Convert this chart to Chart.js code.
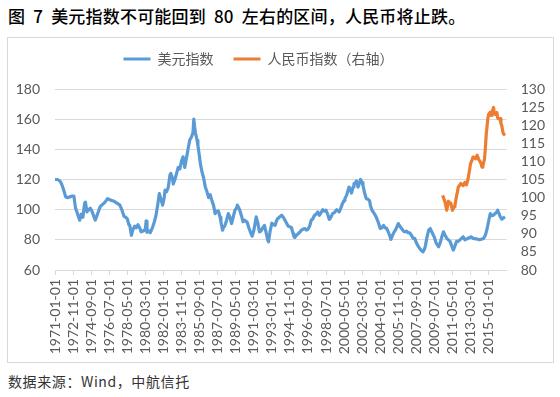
<!DOCTYPE html>
<html><head><meta charset="utf-8">
<script src="https://cdn.jsdelivr.net/npm/chart.js@4.4.0/dist/chart.umd.min.js"></script>
<style>
html,body{margin:0;padding:0;background:#fff;width:560px;height:397px;overflow:hidden;}
#title{position:absolute;left:8px;top:4px;font:500 17px "Noto Sans CJK SC";color:#000;white-space:nowrap;letter-spacing:0.2px;word-spacing:4px;line-height:24px;}
#box{position:absolute;left:7px;top:37px;width:545px;height:324px;border:1px solid #d9d9d9;}
#wrap{position:absolute;left:8px;top:32px;width:545px;height:330px;}
#src{position:absolute;left:8px;top:370px;font:14px "Noto Sans CJK SC";color:#333;white-space:nowrap;line-height:22px;letter-spacing:0.6px;}
</style></head>
<body>
<div id="title">图 7 美元指数不可能回到 80 左右的区间，人民币将止跌。</div>
<div id="box"></div>
<div id="wrap"><canvas id="c" width="545" height="330"></canvas></div>
<div id="src">数据来源：Wind，中航信托</div>
<script>
// months counted from 1971-01 (0)
const seriesNames = ['美元指数', '人民币指数（右轴）'];
const usdMonths = [0,3,6,8,10,13,16,18,21,23,25,27,30,32,34,36,37,39,41,43,45,47,49,51,53,55,57,59,61,64,67,71,75,79,82,84,86,88,90,91,93,95,97,99,101,103,105,108,110,111,112,114,116,119,121,123,125,127,129,131,133,134,136,138,140,141,143,144,146,148,150,152,154,156,158,160,162,164,166,168,169,170,171,173,174,176,177,179,181,183,185,187,189,191,193,195,197,199,201,202,204,205,207,209,211,213,215,217,219,221,222,224,225,227,229,231,234,236,238,240,242,244,245,247,249,251,253,255,257,259,260,262,264,266,268,270,271,273,276,278,280,282,284,286,288,290,291,292,294,296,298,300,302,304,306,308,310,312,314,316,318,320,322,324,326,328,330,332,334,336,338,340,343,346,348,350,352,353,355,357,358,360,361,363,364,366,367,368,369,371,372,374,375,377,379,381,383,384,386,388,390,392,394,396,398,400,402,404,406,408,409,411,413,415,418,420,422,424,426,428,430,432,434,436,438,440,442,444,446,448,450,451,453,455,457,459,462,464,467,469,471,473,475,477,479,481,483,485,487,489,491,493,495,497,499,501,503,505,507,509,511,514,517,520,522,524,526,527,529,530,532,534,536,538,539,541,542,544,546,548];
const usdValues = [120,120,119,117,114,108.5,108,108.5,109,109,101,98,93,97,95,104,105,98.5,100,101,99,96,93,96,99,102,103,104,105,107.3,106.5,105.8,104.5,103,99,95.6,95,94,90,89.7,83,87,89,88,90,88,85.3,86,87,92.5,85,86,84.7,88.6,92,96.3,103,110.6,107,103,108,113,112,115,123,124,121,117,120,124,128,127,132,135,128,134,140,146,148,151,160,155,151,146,142.5,135,130.5,125,121,115,112,108,110,106,103,97.4,99,99,95,92,86.4,88,89.6,93,97.4,95,90.8,95,99.6,101,103,101,99.6,96,92,93,91.7,88,85,82.4,86,92,95.2,91,85.3,86,88,89.6,85,80,78.7,86,91,90,89.6,93,94,95,96.3,95,93,91,89,88.6,88,84,82,81.6,83,84,85,86.4,87,87.5,86.5,87,89,93,94,96.3,97,98.5,96.3,98,100,99,99.6,97,93.5,95,97.4,98,100,98.5,101,104,106,107.3,109.5,113,115,113,111,115,117.2,118,119,117,115,118,120,118,116,111,107.3,107,106,103,99.6,98,96.3,94,91,87.5,88,89.6,88,87.5,85,82,80.3,83,85.3,87,90.8,89,87.5,86,85.3,85.7,84.7,84.6,83,81,81,78,76,74.3,73,72,74,76,82,86.4,87.5,85,81.6,78,75.4,78,82,85.3,83,81,80,79,76,73.2,76,79,79,80,81,82,80,80.5,81,81.5,82,81,80.8,80.5,80,80.5,81,83,87,89.7,95,97.4,96,96.5,97.4,98.5,99.6,97,95.5,93.7,94.5,95.2];
const cnyMonths = [472,473,475,477,479,481,482,484,486,487,489,490,491,493,494,496,497,499,501,503,505,506,508,509,511,512,514,516,518,520,521,523,524,525,527,528,530,531,532,534,535,536,538,539,540,542,543,544,545,546,548];
const cnyValues = [100.6,100,98.7,96.5,99,98.5,98.3,96.5,97.5,97.9,100.6,101.5,102.9,103.5,103.9,103.5,103.3,104.2,103.5,105.2,108,109.4,110.5,111.2,111,110.7,111.7,110.5,109.8,108.4,108.8,110.7,113.5,117.2,121.8,123,123.6,122.7,123.5,124.9,123.1,123,123.5,122,121.8,121.8,120.5,119.9,118.5,117.6,117.2];
const xTickMonths = [0,22,44,66,88,110,132,154,176,198,220,242,264,286,308,330,352,374,396,418,440,462,484,506,528];
const xTickLabels = ['1971-01-01','1972-11-01','1974-09-01','1976-07-01','1978-05-01','1980-03-01','1982-01-01','1983-11-01','1985-09-01','1987-07-01','1989-05-01','1991-03-01','1993-01-01','1994-11-01','1996-09-01','1998-07-01','2000-05-01','2002-03-01','2004-01-01','2005-11-01','2007-09-01','2009-07-01','2011-05-01','2013-03-01','2015-01-01'];
const leftTicks = [60,80,100,120,140,160,180];
const rightTicks = [80,85,90,95,100,105,110,115,120,125,130];
const colors = ['#5B9BD5','#ED7D31'];

const numFont = {family:'Lato', size:14};
const txt = '#595959';
const gridC = '#d9d9d9';

const legendTweak = {
  id:'legendTweak',
  beforeInit(chart){
    const fit = chart.legend.fit;
    chart.legend.fit = function(){ fit.call(this); this.height += 13; };
  },
  afterLayout(chart){
    chart.legend.left -= 22; chart.legend.right -= 22;
  }
};

new Chart(document.getElementById('c'), {
  type:'line',
  data:{datasets:[
    {label:seriesNames[0], data:usdMonths.map((m,i)=>({x:m,y:usdValues[i]})), borderColor:colors[0], backgroundColor:colors[0], borderWidth:3.2, pointRadius:0, yAxisID:'y', borderJoinStyle:'round'},
    {label:seriesNames[1], data:cnyMonths.map((m,i)=>({x:m,y:cnyValues[i]})), borderColor:colors[1], backgroundColor:colors[1], borderWidth:3.2, pointRadius:0, yAxisID:'y1', borderJoinStyle:'round'}
  ]},
  plugins:[legendTweak],
  options:{
    responsive:false, animation:false, devicePixelRatio:1,
    layout:{padding:0},
    plugins:{
      tooltip:{enabled:false},
      legend:{position:'top', labels:{boxWidth:27, boxHeight:3, padding:20, color:txt, font:{family:'Noto Sans CJK SC', size:14},
        generateLabels:(ch)=>ch.data.datasets.map((d,i)=>({text:d.label, fillStyle:colors[i], strokeStyle:colors[i], lineWidth:0, datasetIndex:i, fontColor:txt}))}}
    },
    scales:{
      x:{type:'linear', min:0, max:550,
        afterBuildTicks:(s)=>{s.ticks = xTickMonths.map(v=>({value:v}));},
        afterFit:(s)=>{s.height=92;},
        ticks:{autoSkip:false, maxRotation:90, minRotation:90, padding:4, color:txt, font:numFont,
          callback:(v)=>{const i=xTickMonths.indexOf(v); return i>=0?xTickLabels[i]:'';}},
        grid:{display:true, drawOnChartArea:false, drawTicks:true, tickLength:5, color:gridC},
        border:{display:true, color:gridC}
      },
      y:{position:'left', min:60, max:180,
        afterBuildTicks:(s)=>{s.ticks = leftTicks.map(v=>({value:v}));},
        afterFit:(s)=>{s.width=47;},
        ticks:{autoSkip:false, padding:15, color:txt, font:numFont},
        grid:{color:gridC, drawTicks:false}, border:{display:false}
      },
      y1:{position:'right', min:80, max:130,
        afterBuildTicks:(s)=>{s.ticks = rightTicks.map(v=>({value:v}));},
        afterFit:(s)=>{s.width=46.3;},
        ticks:{autoSkip:false, padding:14, color:txt, font:numFont},
        grid:{drawOnChartArea:false, drawTicks:false}, border:{display:false}
      }
    }
  }
});
</script>
</body></html>
